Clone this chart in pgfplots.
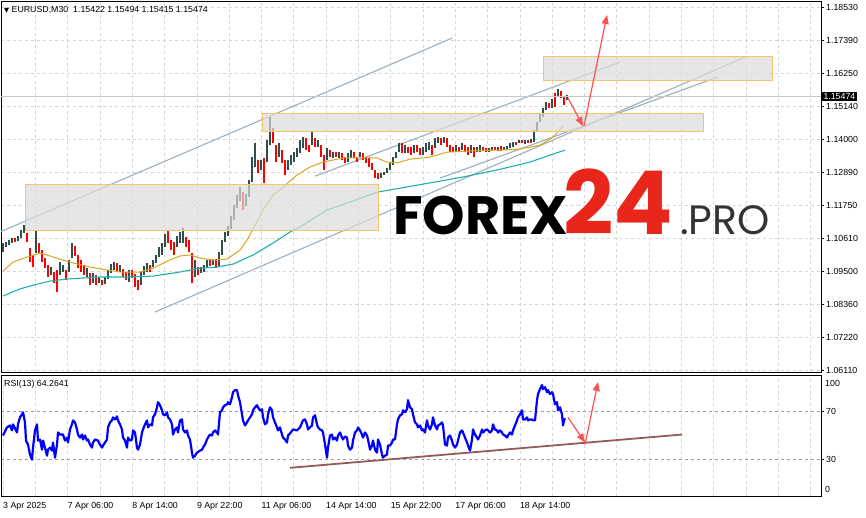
\documentclass[border=0pt]{standalone}
\usepackage{fontspec}
\setmainfont{Liberation Sans}
\newfontfamily\dejavu{DejaVu Sans}
\newfontfamily\logofont{Poppins}
\usepackage{pgfplots}
\usepackage{pgfplotstable}
\pgfplotsset{compat=1.18}
\usetikzlibrary{arrows.meta}
\definecolor{bull}{RGB}{47,79,79}
\definecolor{bear}{RGB}{255,0,0}
\definecolor{maor}{RGB}{218,165,32}
\definecolor{mate}{RGB}{32,178,170}
\definecolor{chan}{RGB}{160,180,196}
\definecolor{boxg}{RGB}{220,220,220}
\definecolor{boxo}{RGB}{244,196,110}
\definecolor{arr}{RGB}{255,80,80}
\definecolor{trend}{RGB}{150,90,90}
\definecolor{logored}{RGB}{232,38,28}
\pgfplotstableread{
x lo hi d
3 1.1015 1.1046 1
6 1.1032 1.1049 1
9 1.1039 1.1056 1
12 1.1046 1.1063 1
15 1.1049 1.1063 0
18 1.1053 1.1070 1
21 1.1063 1.1090 1
24 1.1080 1.1108 1
27 1.1049 1.1080 0
30 1.0981 1.1029 0
33 1.0964 1.1005 0
36 1.1012 1.1090 1
39 1.1012 1.1046 0
42 1.0981 1.1022 0
45 1.0960 1.0995 0
48 1.0930 1.0971 0
51 1.0937 1.0964 1
54 1.0909 1.0947 0
57 1.0878 1.0954 0
60 1.0937 1.0981 1
63 1.0947 1.0971 1
66 1.0919 1.0954 0
69 1.0947 1.0988 1
72 1.0995 1.1046 1
75 1.1002 1.1036 0
78 1.0960 1.1005 0
81 1.0947 1.0988 0
84 1.0937 1.0971 0
87 1.0930 1.0960 1
90 1.0902 1.0943 0
93 1.0909 1.0943 1
96 1.0902 1.0937 0
99 1.0909 1.0930 1
102 1.0902 1.0919 0
105 1.0906 1.0930 1
108 1.0923 1.0954 1
111 1.0943 1.0974 1
114 1.0954 1.0981 1
117 1.0947 1.0978 0
120 1.0947 1.0971 1
123 1.0930 1.0957 0
126 1.0919 1.0947 0
129 1.0913 1.0954 1
132 1.0926 1.0954 0
135 1.0896 1.0940 0
138 1.0885 1.0919 0
141 1.0902 1.0947 1
144 1.0937 1.0967 1
147 1.0947 1.0978 1
150 1.0947 1.0971 0
153 1.0964 1.0988 1
156 1.0978 1.1005 1
159 1.0998 1.1032 1
162 1.1005 1.1046 1
165 1.1032 1.1077 1
168 1.1046 1.1087 0
171 1.1022 1.1056 0
174 1.1005 1.1049 0
177 1.1032 1.1070 1
180 1.1046 1.1084 1
183 1.1046 1.1097 1
186 1.1032 1.1066 0
189 1.1015 1.1056 0
192 1.0909 1.1012 0
195 1.0930 1.0988 1
198 1.0937 1.0964 0
201 1.0943 1.0964 1
204 1.0947 1.0971 1
207 1.0964 1.0988 1
210 1.0967 1.0991 0
213 1.0971 1.0988 1
216 1.0960 1.0991 0
219 1.0967 1.1015 1
222 1.1005 1.1056 1
225 1.1049 1.1084 1
228 1.1070 1.1104 1
231 1.1094 1.1138 1
234 1.1125 1.1176 1
237 1.1166 1.1210 1
240 1.1190 1.1237 1
243 1.1159 1.1220 0
246 1.1172 1.1214 1
249 1.1203 1.1261 1
252 1.1255 1.1340 1
255 1.1306 1.1388 1
258 1.1285 1.1330 0
261 1.1296 1.1330 1
264 1.1251 1.1337 0
267 1.1323 1.1398 1
270 1.1381 1.1477 1
273 1.1388 1.1439 0
276 1.1323 1.1381 0
279 1.1340 1.1388 1
282 1.1320 1.1364 0
285 1.1279 1.1330 0
288 1.1296 1.1330 1
291 1.1313 1.1347 1
294 1.1323 1.1357 1
297 1.1340 1.1371 1
300 1.1354 1.1398 1
303 1.1371 1.1408 1
306 1.1364 1.1405 0
309 1.1357 1.1381 0
312 1.1381 1.1426 1
315 1.1374 1.1405 0
318 1.1374 1.1398 1
321 1.1340 1.1381 0
324 1.1296 1.1347 0
327 1.1330 1.1371 1
330 1.1340 1.1364 0
333 1.1337 1.1357 1
336 1.1340 1.1357 0
339 1.1337 1.1357 1
342 1.1330 1.1354 0
345 1.1320 1.1340 0
348 1.1323 1.1354 1
351 1.1337 1.1364 1
354 1.1337 1.1357 0
357 1.1323 1.1340 0
360 1.1340 1.1357 1
363 1.1330 1.1354 0
366 1.1320 1.1340 0
369 1.1306 1.1337 0
372 1.1296 1.1320 0
375 1.1268 1.1296 0
378 1.1265 1.1285 0
381 1.1268 1.1285 1
384 1.1279 1.1289 1
387 1.1285 1.1302 1
390 1.1296 1.1320 1
393 1.1313 1.1340 1
396 1.1337 1.1357 1
399 1.1357 1.1388 1
402 1.1354 1.1388 0
405 1.1354 1.1381 1
408 1.1354 1.1374 0
411 1.1347 1.1374 0
414 1.1354 1.1381 1
417 1.1357 1.1381 0
420 1.1347 1.1371 0
423 1.1347 1.1374 1
426 1.1357 1.1388 1
429 1.1364 1.1391 1
432 1.1347 1.1381 0
435 1.1371 1.1405 1
438 1.1388 1.1408 1
441 1.1381 1.1405 0
444 1.1388 1.1408 1
447 1.1374 1.1405 0
450 1.1357 1.1381 0
453 1.1357 1.1374 0
456 1.1357 1.1381 1
459 1.1357 1.1374 0
462 1.1364 1.1388 1
465 1.1357 1.1381 0
468 1.1347 1.1374 0
471 1.1354 1.1381 1
474 1.1340 1.1374 0
477 1.1357 1.1374 1
480 1.1357 1.1381 1
483 1.1364 1.1374 0
486 1.1357 1.1371 0
489 1.1357 1.1371 1
492 1.1364 1.1374 1
495 1.1364 1.1374 0
498 1.1361 1.1374 1
501 1.1361 1.1378 0
504 1.1364 1.1374 1
507 1.1364 1.1378 1
510 1.1371 1.1388 1
513 1.1374 1.1391 1
516 1.1381 1.1391 0
519 1.1388 1.1398 1
522 1.1388 1.1398 0
525 1.1385 1.1398 1
528 1.1388 1.1398 0
531 1.1388 1.1402 1
534 1.1391 1.1432 1
537 1.1426 1.1460 1
540 1.1460 1.1491 1
543 1.1477 1.1508 1
546 1.1501 1.1528 1
549 1.1508 1.1525 0
552 1.1508 1.1538 1
555 1.1511 1.1559 0
558 1.1545 1.1573 1
561 1.1542 1.1566 0
564 1.1518 1.1545 0
567 1.1535 1.1552 1
}\candles
\begin{document}
\begin{tikzpicture}
\useasboundingbox (0,0) rectangle (866pt,517pt);
% ---------------- main price panel
\begin{axis}[
  name=main, at={(1pt,145pt)}, anchor=south west, scale only axis,
  width=820pt, height=371pt,
  xmin=1, xmax=821, ymin=1.0605, ymax=1.1874,
  axis line style={black, line width=0.8pt},
  xtick={35.3,67.6,...,811}, xticklabels={}, x tick style={draw=none},
  ytick={1.0611,1.0722,1.0836,1.095,1.1061,1.1175,1.1289,1.14,1.1514,1.1625,1.1739,1.1853},
  yticklabels={1.06110,1.07220,1.08360,1.09500,1.10610,1.11750,1.12890,1.14000,1.15140,1.16250,1.17390,1.18530},
  ytick pos=right, yticklabel pos=right, tick align=outside, major tick length=3pt,
  y tick style={black, line width=0.6pt},
  yticklabel style={font=\fontsize{8.8}{10}\selectfont, inner sep=0pt, xshift=2pt},
  grid=major, major grid style={dash pattern=on 3pt off 3pt, draw=black!16, line width=0.6pt},
]
% channel lines
\addplot[chan, line width=1.2pt] coordinates {(0,1.1084) (452,1.1747)};
\addplot[chan, line width=1.2pt] coordinates {(315,1.1275) (620,1.1665)};
\addplot[chan, line width=1.2pt] coordinates {(155,1.0810) (745,1.1682)};
\addplot[chan, line width=1.2pt] coordinates {(440,1.1268) (718,1.1614)};
% candles (low-high bars)
\addplot[draw=bull, line width=2.8pt, line cap=butt,
  quiver={u=0, v=\thisrow{d}*(\thisrow{hi}-\thisrow{lo})}]
  table[x=x, y=lo] {\candles};
\addplot[draw=bear, line width=2.8pt, line cap=butt,
  quiver={u=0, v=(1-\thisrow{d})*(\thisrow{hi}-\thisrow{lo})}]
  table[x=x, y=lo] {\candles};
% moving averages
\addplot[maor, line width=1pt] coordinates {
(3,1.0950)(13,1.0981)(27,1.0998)(40,1.1012)(47,1.1005)(60,1.0991)(73,1.0978)(90,1.0964)
(107,1.0954)(120,1.0947)(140,1.0947)(153,1.0960)(167,1.0984)(180,1.1002)(190,1.1005)
(200,1.0995)(213,1.0988)(227,1.0991)(240,1.1022)(247,1.1056)(253,1.1094)(263,1.1159)
(273,1.1210)(283,1.1237)(297,1.1279)(310,1.1306)(323,1.1323)(343,1.1337)(363,1.1337)
(377,1.1337)(387,1.1323)(397,1.1320)(410,1.1333)(430,1.1340)(447,1.1357)(470,1.1361)
(497,1.1364)(517,1.1367)(530,1.1374)(540,1.1381)(553,1.1408)(563,1.1446)};
\addplot[mate, line width=1.1pt] coordinates {
(3,1.0865)(20,1.0889)(33,1.0902)(50,1.0916)(67,1.0923)(100,1.0930)(127,1.0930)(153,1.0933)
(180,1.0947)(200,1.0960)(217,1.0964)(233,1.0974)(253,1.1005)(273,1.1046)(290,1.1084)
(300,1.1101)(327,1.1159)(350,1.1186)(377,1.1220)(417,1.1244)(463,1.1272)(497,1.1296)
(530,1.1323)(550,1.1347)(565,1.1364)};
% zones
\addplot[fill=boxg, fill opacity=0.7, draw=boxo, draw opacity=1, line width=0.8pt]
  coordinates {(25,1.1090)(378,1.1090)(378,1.1248)(25,1.1248)} --cycle;
\addplot[fill=boxg, fill opacity=0.7, draw=boxo, draw opacity=1, line width=0.8pt]
  coordinates {(262,1.1429)(703,1.1429)(703,1.1491)(262,1.1491)} --cycle;
\addplot[fill=boxg, fill opacity=0.7, draw=boxo, draw opacity=1, line width=0.8pt]
  coordinates {(543,1.1603)(772,1.1603)(772,1.1685)(543,1.1685)} --cycle;
% bid line
\addplot[black!22, line width=0.6pt] coordinates {(1,1.15474)(821,1.15474)};
% arrows
\addplot[arr, line width=1.2pt, -{Triangle[length=9pt,width=7pt]}] coordinates {(568,1.1542)(583,1.1446)};
\addplot[arr, line width=1.2pt, -{Triangle[length=9pt,width=7pt]}] coordinates {(584,1.1446)(607,1.1826)};
\path (axis cs:821,1.15474) coordinate (pricept);
\end{axis}
\node[anchor=west, fill=black, text=white, inner sep=1.3pt, font=\fontsize{8.8}{10}\selectfont] at ([xshift=1pt]pricept) {1.15474};
% header
\node[anchor=west, inner sep=0pt, font=\fontsize{8.8}{10}\selectfont] at (4pt,507pt) {{\dejavu\fontsize{6.5}{7}\selectfont ▼}\ EURUSD,M30\ \ 1.15422 1.15494 1.15415 1.15474};
% logo
\node[anchor=base west, inner sep=0pt, font=\logofont\bfseries\fontsize{54}{60}\selectfont, text=black] at (393pt,282pt) {FOREX};
\node[anchor=base west, inner sep=0pt, font=\logofont\bfseries\fontsize{88}{90}\selectfont, text=logored] at (563pt,282pt) {24};
\node[anchor=base west, inner sep=0pt, font=\logofont\fontsize{41}{50}\selectfont, text=black!80] at (680pt,282pt) {.PRO};
% ---------------- RSI panel
\begin{axis}[
  name=rsi, at={(1pt,21pt)}, anchor=south west, scale only axis,
  width=820pt, height=121pt,
  xmin=1, xmax=821, ymin=0, ymax=100,
  axis line style={black, line width=0.8pt},
  xtick={3,35.3,...,811},
  xticklabels={3 Apr 2025,{},7 Apr 06:00,{},8 Apr 14:00,{},9 Apr 22:00,{},11 Apr 06:00,{},14 Apr 14:00,{},15 Apr 22:00,{},17 Apr 06:00,{},18 Apr 14:00,{},{},{},{},{},{},{},{},{},{},{}},
  x tick style={draw=none},
  xticklabel style={anchor=north west, inner sep=0pt, yshift=-3.5pt, xshift=0pt, font=\fontsize{8.8}{10}\selectfont},
  ytick={30,70}, yticklabels={30,70},
  ytick pos=right, yticklabel pos=right, tick align=outside, major tick length=3pt,
  y tick style={black, line width=0.6pt},
  yticklabel style={font=\fontsize{8.8}{10}\selectfont, inner sep=0pt, xshift=2pt},
  xmajorgrids, ymajorgrids,
  x grid style={dash pattern=on 3pt off 3pt, draw=black!16, line width=0.6pt},
  y grid style={dash pattern=on 3pt off 3pt, draw=black!38, line width=0.6pt},
]
\addplot[trend, line width=1.8pt] coordinates {(290,23.3)(682,50.8)};
\addplot[blue, line width=2.2pt, line join=round] coordinates {
(3,50.0)(7,56.7)(10,58.3)(12,54.2)(13,59.2)(17,52.5)(18,59.2)(20,65.0)(22,67.5)(23,69.2)
(25,60.8)(26,45.8)(28,42.5)(30,34.2)(32,30.0)(33,40.0)(35,54.2)(37,59.2)(38,45.8)(40,46.7)
(42,38.3)(43,45.8)(45,40.0)(47,33.3)(48,38.3)(50,40.0)(52,37.5)(53,44.2)(55,31.7)(57,42.5)
(58,52.5)(60,50.8)(63,50.8)(65,45.8)(67,48.3)(68,44.2)(70,55.0)(72,59.2)(73,62.5)(75,60.8)
(77,55.0)(78,50.8)(80,48.3)(82,50.8)(83,46.7)(85,50.0)(87,45.8)(88,46.7)(90,42.5)(92,40.0)
(93,44.2)(95,46.7)(98,45.8)(100,42.5)(102,40.0)(103,41.7)(105,44.2)(107,46.7)(108,56.7)(110,60.8)
(112,62.5)(113,65.0)(115,63.3)(117,65.8)(118,62.5)(120,59.2)(122,55.0)(123,48.3)(125,45.8)(127,40.0)
(128,48.3)(130,45.8)(132,46.7)(133,54.2)(135,52.5)(137,40.0)(138,38.3)(140,42.5)(142,52.5)(143,55.0)
(145,59.2)(147,62.5)(148,56.7)(150,59.2)(152,58.3)(153,65.0)(155,67.5)(157,73.3)(158,77.5)(160,75.0)
(162,70.8)(163,67.5)(165,66.7)(167,69.2)(168,65.0)(170,63.3)(172,59.2)(173,50.8)(175,55.0)(177,56.7)
(178,52.5)(180,62.5)(182,63.3)(183,55.0)(185,52.5)(187,54.2)(188,50.0)(190,46.7)(192,35.8)(193,31.7)
(195,33.3)(197,35.8)(200,37.5)(202,38.3)(203,40.0)(205,42.5)(207,46.7)(208,48.3)(210,50.8)(212,50.0)
(213,52.5)(215,54.2)(217,52.5)(218,50.8)(220,69.2)(222,70.8)(223,73.3)(225,75.0)(227,75.8)(228,77.5)
(230,75.8)(232,81.7)(233,85.8)(235,87.5)(237,87.5)(238,83.3)(240,77.5)(242,67.5)(243,62.5)(245,58.3)
(247,60.8)(248,62.5)(250,65.0)(252,67.5)(253,70.8)(255,73.3)(257,75.0)(258,73.3)(260,70.8)(262,71.7)
(263,65.0)(265,59.2)(267,60.8)(268,67.5)(270,73.3)(272,70.8)(273,65.0)(275,60.8)(277,56.7)(278,54.2)
(280,56.7)(282,50.8)(283,48.3)(285,46.7)(287,44.2)(288,50.0)(290,51.7)(293,55.0)(297,54.2)(300,56.7)
(303,62.5)(305,63.3)(307,59.2)(308,55.0)(310,56.7)(312,58.3)(313,65.0)(315,66.7)(317,59.2)(318,56.7)
(320,55.0)(322,54.2)(323,52.5)(325,42.5)(327,31.7)(328,40.0)(330,50.0)(332,50.8)(333,46.7)(335,48.3)
(337,45.8)(338,50.0)(340,52.5)(342,48.3)(343,46.7)(345,49.2)(347,48.3)(348,41.7)(350,38.3)(352,40.0)
(353,45.8)(355,52.5)(357,54.2)(358,56.7)(360,54.2)(362,50.8)(363,48.3)(365,52.5)(367,50.0)(368,46.7)
(370,38.3)(372,41.7)(373,45.8)(375,38.3)(377,35.8)(378,46.7)(380,42.5)(382,34.2)(383,31.7)(385,33.3)
(387,34.2)(388,41.7)(390,41.7)(392,44.2)(393,46.7)(395,46.7)(397,59.2)(398,63.3)(400,66.7)(402,67.5)
(403,70.8)(405,69.2)(407,71.7)(408,79.2)(410,73.3)(412,71.7)(413,67.5)(415,60.8)(417,59.2)(418,56.7)
(420,58.3)(422,54.2)(423,55.0)(425,52.5)(427,62.5)(428,58.3)(430,55.0)(432,59.2)(433,65.0)(435,58.3)
(437,55.0)(438,58.3)(440,59.2)(442,60.8)(443,58.3)(445,42.5)(447,41.7)(448,48.3)(450,50.0)(452,45.8)
(453,42.5)(455,40.0)(457,42.5)(458,45.8)(460,52.5)(462,54.2)(463,52.5)(465,48.3)(467,44.2)(468,41.7)
(470,37.5)(472,46.7)(473,55.0)(475,50.8)(477,48.3)(478,46.7)(480,50.0)(482,55.0)(483,52.5)(485,54.2)
(487,55.0)(488,54.2)(490,52.5)(492,54.2)(493,59.2)(495,55.0)(497,54.2)(498,52.5)(500,54.2)(502,52.5)
(503,50.8)(505,50.0)(507,48.3)(508,50.0)(510,52.5)(512,50.8)(513,54.2)(515,58.3)(517,62.5)(518,65.0)
(520,67.5)(522,70.8)(523,63.3)(525,63.3)(527,65.0)(528,62.5)(530,63.3)(532,63.3)(533,62.5)(535,62.5)
(537,79.2)(538,84.2)(540,88.3)(542,91.7)(543,88.3)(545,90.0)(547,85.8)(548,87.5)(550,84.2)(552,85.8)
(553,84.2)(555,75.8)(557,77.5)(558,70.8)(560,73.3)(562,67.5)(563,58.3)(564,62.5)(565,64.3)};
\addplot[arr, line width=1.2pt, -{Triangle[length=9pt,width=7pt]}] coordinates {(568,65.0)(585,44.2)};
\addplot[arr, line width=1.2pt, -{Triangle[length=9pt,width=7pt]}] coordinates {(585,42.5)(598,94.2)};
\end{axis}
\node[anchor=west, inner sep=0pt, font=\fontsize{8.8}{10}\selectfont] at (825pt,134pt) {100};
\node[anchor=west, inner sep=0pt, font=\fontsize{8.8}{10}\selectfont] at (825pt,28pt) {0};
\node[anchor=west, inner sep=0pt, font=\fontsize{8.8}{10}\selectfont] at (4pt,133pt) {RSI(13) 64.2641};
\end{tikzpicture}
\end{document}
